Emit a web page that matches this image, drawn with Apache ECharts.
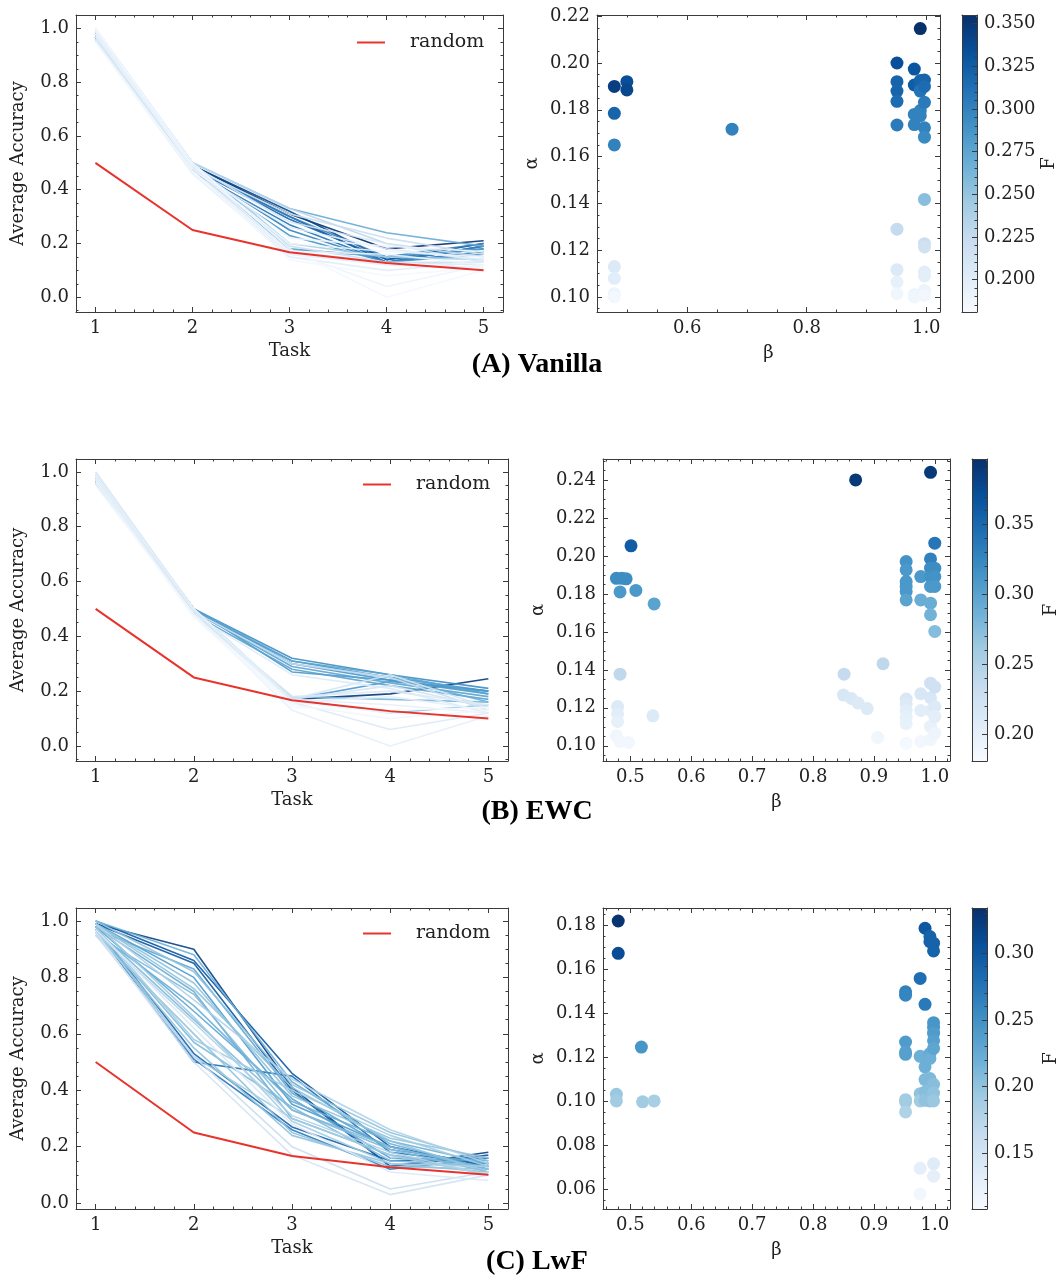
<!DOCTYPE html>
<html>
<head>
<meta charset="utf-8">
<script src="https://cdn.jsdelivr.net/npm/echarts@6/dist/echarts.min.js"></script>
<style>
html, body { margin: 0; padding: 0; background: #fff; }
#main { width: 1061px; height: 1280px; }
</style>
</head>
<body>
<div id="main"></div>
<script>
// ---- data ----
var tasks = [1, 2, 3, 4, 5];
var randomAcc = [0.50, 0.25, 0.167, 0.127, 0.10];

// (A) Vanilla : accuracy curves and their F value
var vanillaCurves = [
  [1.00, 0.50, 0.18, 0.00, 0.10],
  [0.95, 0.47, 0.14, 0.08, 0.11],
  [0.98, 0.48, 0.20, 0.17, 0.15],
  [0.99, 0.49, 0.17, 0.04, 0.12],
  [1.00, 0.49, 0.22, 0.19, 0.17],
  [0.95, 0.46, 0.17, 0.16, 0.12],
  [0.97, 0.47, 0.16, 0.12, 0.11],
  [0.96, 0.46, 0.15, 0.10, 0.13],
  [0.96, 0.47, 0.26, 0.18, 0.14],
  [0.98, 0.48, 0.17, 0.13, 0.12],
  [0.97, 0.49, 0.28, 0.20, 0.13],
  [0.99, 0.49, 0.19, 0.13, 0.13],
  [0.99, 0.48, 0.31, 0.22, 0.16],
  [0.98, 0.50, 0.33, 0.20, 0.15],
  [1.00, 0.50, 0.20, 0.15, 0.14],
  [0.99, 0.50, 0.33, 0.24, 0.19],
  [0.97, 0.48, 0.18, 0.15, 0.18],
  [0.96, 0.47, 0.23, 0.13, 0.16],
  [0.98, 0.48, 0.25, 0.13, 0.19],
  [0.97, 0.48, 0.30, 0.15, 0.20],
  [0.97, 0.47, 0.27, 0.13, 0.17],
  [0.96, 0.48, 0.29, 0.14, 0.18],
  [0.97, 0.48, 0.30, 0.13, 0.19],
  [0.98, 0.49, 0.32, 0.14, 0.20],
  [0.97, 0.49, 0.31, 0.18, 0.21]
];
var vanillaCurveF = [0.185, 0.185, 0.19, 0.19, 0.19, 0.19, 0.20, 0.20, 0.20, 0.21, 0.21, 0.22, 0.22,
  0.23, 0.24, 0.27, 0.28, 0.29, 0.30, 0.30, 0.31, 0.32, 0.33, 0.34, 0.355];

var vanillaBeta = [0.478, 0.478, 0.478, 0.499, 0.499, 0.478, 0.478, 0.478, 0.478, 0.675,
  0.951, 0.951, 0.951, 0.951, 0.951, 0.951, 0.951, 0.951, 0.951,
  0.980, 0.980, 0.980, 0.980, 0.980, 0.980,
  0.990, 0.990, 0.990, 0.990, 0.990, 0.990,
  0.997, 0.997, 0.997, 0.997, 0.997, 0.997, 0.997, 0.997, 0.997, 0.997, 0.997, 0.997];
var vanillaAlpha = [0.190, 0.1785, 0.165, 0.192, 0.1885, 0.113, 0.108, 0.1014, 0.100, 0.1717,
  0.200, 0.192, 0.188, 0.1836, 0.1735, 0.129, 0.1117, 0.1064, 0.1014,
  0.1974, 0.1906, 0.178, 0.1737, 0.101, 0.100,
  0.2147, 0.1925, 0.1896, 0.188, 0.1797, 0.1775,
  0.1927, 0.190, 0.1832, 0.1723, 0.1683, 0.1417, 0.1228, 0.1214, 0.1107, 0.109, 0.1028, 0.1007];
var vanillaF = [0.345, 0.32, 0.30, 0.335, 0.34, 0.205, 0.20, 0.19, 0.185, 0.30,
  0.335, 0.32, 0.32, 0.315, 0.305, 0.225, 0.205, 0.195, 0.188,
  0.33, 0.325, 0.30, 0.30, 0.19, 0.188,
  0.355, 0.32, 0.32, 0.31, 0.30, 0.30,
  0.32, 0.315, 0.305, 0.30, 0.295, 0.255, 0.22, 0.215, 0.20, 0.198, 0.19, 0.186];

// (B) EWC
var ewcCurves = [
  [0.96, 0.47, 0.14, 0.13, 0.14],
  [0.95, 0.48, 0.16, 0.12, 0.10],
  [0.97, 0.47, 0.15, 0.10, 0.13],
  [0.98, 0.48, 0.13, 0.00, 0.11],
  [0.98, 0.50, 0.16, 0.18, 0.13],
  [0.99, 0.50, 0.17, 0.15, 0.12],
  [0.99, 0.49, 0.16, 0.06, 0.12],
  [1.00, 0.49, 0.18, 0.20, 0.15],
  [0.98, 0.48, 0.26, 0.21, 0.12],
  [1.00, 0.50, 0.17, 0.26, 0.14],
  [0.97, 0.48, 0.17, 0.22, 0.14],
  [0.99, 0.49, 0.30, 0.25, 0.13],
  [0.97, 0.49, 0.17, 0.12, 0.15],
  [0.96, 0.48, 0.18, 0.17, 0.16],
  [0.98, 0.49, 0.30, 0.25, 0.16],
  [0.96, 0.48, 0.28, 0.22, 0.17],
  [0.97, 0.49, 0.29, 0.23, 0.18],
  [0.99, 0.50, 0.31, 0.26, 0.19],
  [0.98, 0.50, 0.30, 0.24, 0.19],
  [0.97, 0.50, 0.27, 0.24, 0.20],
  [0.96, 0.49, 0.31, 0.25, 0.20],
  [0.98, 0.50, 0.17, 0.235, 0.20],
  [0.97, 0.50, 0.32, 0.26, 0.21],
  [0.97, 0.49, 0.17, 0.19, 0.245]
];
var ewcCurveF = [0.185, 0.19, 0.19, 0.20, 0.20, 0.20, 0.21, 0.21, 0.21, 0.22, 0.22, 0.23,
  0.27, 0.28, 0.29, 0.30, 0.30, 0.30, 0.31, 0.31, 0.31, 0.31, 0.32, 0.39];

var ewcBeta = [0.477, 0.486, 0.493, 0.483, 0.509, 0.501, 0.539,
  0.483, 0.479, 0.479, 0.479, 0.477, 0.483, 0.497, 0.537,
  0.870, 0.851, 0.850, 0.863, 0.874, 0.889, 0.906, 0.915,
  0.953, 0.953, 0.953, 0.953, 0.953, 0.953, 0.953, 0.953, 0.953, 0.953, 0.953, 0.953,
  0.977, 0.977, 0.977, 0.977, 0.977,
  0.993, 0.993, 0.993, 0.993, 0.993, 0.993, 0.993, 0.993, 0.993, 0.993, 0.993, 0.993,
  1.000, 1.000, 1.000, 1.000, 1.000, 1.000, 1.000, 1.000, 1.000];
var ewcAlpha = [0.1882, 0.1882, 0.1879, 0.181, 0.1818, 0.2053, 0.1747,
  0.1377, 0.1207, 0.1168, 0.1128, 0.1053, 0.1023, 0.1018, 0.1158,
  0.240, 0.1377, 0.1267, 0.1249, 0.1225, 0.1196, 0.1044, 0.1432,
  0.197, 0.1926, 0.1865, 0.1839, 0.1812, 0.1768, 0.1246, 0.1221, 0.1186, 0.115, 0.1116, 0.1014,
  0.1891, 0.1768, 0.1274, 0.1186, 0.1023,
  0.244, 0.1984, 0.1935, 0.1891, 0.1839, 0.1751, 0.169, 0.133, 0.1253, 0.1186, 0.1102, 0.1032,
  0.2067, 0.1935, 0.1891, 0.1839, 0.1602, 0.1309, 0.1207, 0.1154, 0.1067];
var ewcF = [0.32, 0.32, 0.32, 0.31, 0.31, 0.36, 0.30,
  0.24, 0.21, 0.205, 0.20, 0.19, 0.188, 0.188, 0.21,
  0.39, 0.235, 0.215, 0.213, 0.21, 0.21, 0.19, 0.24,
  0.315, 0.31, 0.31, 0.31, 0.31, 0.30, 0.215, 0.21, 0.205, 0.20, 0.198, 0.185,
  0.31, 0.29, 0.215, 0.205, 0.188,
  0.39, 0.33, 0.32, 0.315, 0.31, 0.29, 0.285, 0.225, 0.215, 0.205, 0.198, 0.19,
  0.34, 0.32, 0.315, 0.31, 0.275, 0.225, 0.21, 0.203, 0.192];

// (C) LwF
var lwfCurves = [
  [0.97, 0.62, 0.28, 0.11, 0.08],
  [0.96, 0.50, 0.17, 0.03, 0.10],
  [0.95, 0.52, 0.20, 0.05, 0.11],
  [0.99, 0.72, 0.44, 0.26, 0.14],
  [0.96, 0.64, 0.31, 0.18, 0.10],
  [0.97, 0.52, 0.30, 0.17, 0.10],
  [0.98, 0.58, 0.40, 0.24, 0.13],
  [0.99, 0.66, 0.29, 0.14, 0.13],
  [0.95, 0.60, 0.25, 0.13, 0.12],
  [0.96, 0.55, 0.24, 0.14, 0.11],
  [0.99, 0.76, 0.41, 0.22, 0.11],
  [1.00, 0.82, 0.42, 0.25, 0.15],
  [0.99, 0.78, 0.38, 0.23, 0.16],
  [0.95, 0.74, 0.33, 0.20, 0.12],
  [0.97, 0.65, 0.33, 0.19, 0.11],
  [0.97, 0.57, 0.34, 0.15, 0.13],
  [0.96, 0.70, 0.36, 0.22, 0.14],
  [1.00, 0.88, 0.43, 0.21, 0.12],
  [0.98, 0.75, 0.30, 0.17, 0.13],
  [0.97, 0.83, 0.39, 0.19, 0.14],
  [0.98, 0.68, 0.37, 0.16, 0.15],
  [0.99, 0.80, 0.35, 0.20, 0.12],
  [0.98, 0.51, 0.26, 0.12, 0.16],
  [0.97, 0.50, 0.45, 0.18, 0.14],
  [0.98, 0.53, 0.27, 0.15, 0.16],
  [1.00, 0.86, 0.46, 0.20, 0.13],
  [0.99, 0.85, 0.40, 0.13, 0.17],
  [0.99, 0.90, 0.41, 0.13, 0.18]
];
var lwfCurveF = [0.14, 0.15, 0.16, 0.18, 0.18, 0.19, 0.19, 0.19, 0.20, 0.20, 0.20, 0.20, 0.20, 0.21,
  0.21, 0.21, 0.22, 0.22, 0.22, 0.23, 0.23, 0.24, 0.27, 0.28, 0.29, 0.30, 0.30, 0.32];

var lwfBeta = [0.480, 0.480, 0.477, 0.477, 0.518, 0.520, 0.539,
  0.952, 0.952, 0.952, 0.952, 0.952, 0.952, 0.952, 0.952,
  0.976, 0.976, 0.976, 0.976, 0.976, 0.976,
  0.984, 0.984, 0.984, 0.984, 0.984, 0.984,
  0.992, 0.992, 0.992, 0.992, 0.992, 0.992, 0.992,
  0.998, 0.998, 0.998, 0.998, 0.998, 0.998, 0.998, 0.998, 0.998, 0.998, 0.998, 0.998];
var lwfAlpha = [0.1818, 0.1671, 0.1030, 0.1000, 0.1245, 0.0996, 0.1000,
  0.1496, 0.1481, 0.1268, 0.1223, 0.1212, 0.1006, 0.0995, 0.095,
  0.1557, 0.1203, 0.1033, 0.100, 0.0694, 0.0577,
  0.1785, 0.1439, 0.1155, 0.1097, 0.1041, 0.1003,
  0.1747, 0.1724, 0.1215, 0.1193, 0.1102, 0.1049, 0.100,
  0.1717, 0.1682, 0.1356, 0.1335, 0.1308, 0.1274, 0.1239, 0.1076, 0.1036, 0.100, 0.0715, 0.0658];
var lwfF = [0.33, 0.31, 0.195, 0.19, 0.245, 0.19, 0.185,
  0.265, 0.26, 0.24, 0.235, 0.235, 0.19, 0.19, 0.18,
  0.28, 0.22, 0.20, 0.19, 0.13, 0.115,
  0.30, 0.27, 0.22, 0.21, 0.205, 0.20,
  0.29, 0.29, 0.225, 0.22, 0.21, 0.205, 0.20,
  0.29, 0.29, 0.245, 0.245, 0.24, 0.235, 0.23, 0.205, 0.20, 0.195, 0.135, 0.13];

// ---- styling helpers ----
var serif = 'DejaVu Serif';
var fontPx = 18;
var axisCol = '#3a3a3a';
var textCol = '#222';
var blues = ['#f7fbff', '#deebf7', '#c6dbef', '#9ecae1', '#6baed6', '#4292c6', '#2171b5', '#08519c', '#08306b'];

function hexToRgb(h) {
  return [parseInt(h.substr(1, 2), 16), parseInt(h.substr(3, 2), 16), parseInt(h.substr(5, 2), 16)];
}
function bluesAt(t) {
  t = Math.max(0, Math.min(1, t));
  var p = t * 8, i = Math.min(7, Math.floor(p)), f = p - i;
  var a = hexToRgb(blues[i]), b = hexToRgb(blues[i + 1]);
  return 'rgb(' + [0, 1, 2].map(function (k) { return Math.round(a[k] + (b[k] - a[k]) * f); }).join(',') + ')';
}
function steps(a, b, s) {
  var out = [];
  for (var v = a; v <= b + s / 1000; v += s) out.push(Math.round(v * 1e6) / 1e6);
  return out;
}

var option = {
  animation: false,
  backgroundColor: '#fff',
  grid: [], xAxis: [], yAxis: [], series: [], visualMap: [], legend: [], graphic: []
};

function addGrid(r) {
  option.grid.push({ left: r[0], top: r[1], width: r[2], height: r[3], show: false, outerBoundsMode: 'none', containLabel: false });
  return option.grid.length - 1;
}

// box sides: major ticks (+labels on the first side) and minor ticks
function addAxes(list, gi, range, majors, minors, sides, dec, name, nameGap, rot) {
  var first = list.length;
  sides.forEach(function (side, k) {
    var lab = k === 0 && dec !== null;
    var ax = {
      type: 'value', gridIndex: gi, min: range[0], max: range[1], position: side, z: 10,
      splitLine: { show: false },
      axisLine: { show: true, onZero: false, lineStyle: { color: axisCol, width: 1 } },
      axisTick: { show: true, inside: true, length: 5, customValues: majors, lineStyle: { color: axisCol, width: 1 } },
      axisLabel: lab ? {
        show: true, customValues: majors, margin: 7, color: textCol, fontFamily: serif, fontSize: fontPx,
        formatter: function (v) { return Number(v).toFixed(dec); }
      } : { show: false }
    };
    if (k === 0 && name) {
      ax.name = name;
      ax.nameLocation = 'middle';
      ax.nameGap = nameGap;
      ax.nameTextStyle = { color: textCol, fontFamily: serif, fontSize: fontPx };
      if (rot) ax.nameRotate = rot;
    }
    list.push(ax);
  });
  sides.forEach(function (side) {
    list.push({
      type: 'value', gridIndex: gi, min: range[0], max: range[1], position: side, z: 10,
      splitLine: { show: false },
      axisLine: { show: false, onZero: false },
      axisTick: { show: true, inside: true, length: 2.5, customValues: minors, lineStyle: { color: axisCol, width: 1 } },
      axisLabel: { show: false }
    });
  });
  return first;
}

function accuracyPanel(rect, yRange, curves, curveF, fRange, legendPos) {
  var gi = addGrid(rect);
  var xi = addAxes(option.xAxis, gi, [0.8, 5.2], tasks, steps(0.8, 5.2, 0.2), ['bottom', 'top'], 0, 'Task', 30);
  var yi = addAxes(option.yAxis, gi, yRange, steps(0, 1, 0.2), steps(-0.05, 1.05, 0.05), ['left', 'right'], 1, 'Average Accuracy', 49, 90);
  // darker curves first, pale ones drawn over them
  var order = curves.map(function (c, i) { return i; }).sort(function (a, b) { return curveF[b] - curveF[a]; });
  order.forEach(function (i) {
    option.series.push({
      type: 'line', xAxisIndex: xi, yAxisIndex: yi, symbol: 'none', silent: true,
      data: tasks.map(function (t, k) { return [t, curves[i][k]]; }),
      lineStyle: { color: bluesAt((curveF[i] - fRange[0]) / (fRange[1] - fRange[0])), width: 1.6, opacity: 0.9 }
    });
  });
  option.series.push({
    type: 'line', name: 'random', xAxisIndex: xi, yAxisIndex: yi, symbol: 'none', z: 5,
    data: tasks.map(function (t, k) { return [t, randomAcc[k]]; }),
    lineStyle: { color: '#e8332c', width: 2 }, itemStyle: { color: '#e8332c' }
  });
  option.legend.push({
    left: legendPos[0], top: legendPos[1], padding: 0, icon: 'rect', itemWidth: 28, itemHeight: 2,
    selectedMode: false, data: [{ name: 'random' }],
    textStyle: { color: textCol, fontFamily: serif, fontSize: 19, padding: [0, 0, 0, 20] }
  });
}

function scatterPanel(rect, xRange, xMaj, xMin, xDec, yRange, yMaj, yMin, beta, alpha, F, cbRect, fRange, cbMaj, cbMin, cbDec, fGap) {
  var gi = addGrid(rect);
  var xi = addAxes(option.xAxis, gi, xRange, xMaj, xMin, ['bottom', 'top'], xDec, '\u03b2', 32);
  var yi = addAxes(option.yAxis, gi, yRange, yMaj, yMin, ['left', 'right'], 2, '\u03b1', 56, 90);
  option.series.push({
    type: 'scatter', xAxisIndex: xi, yAxisIndex: yi, symbolSize: 13,
    data: beta.map(function (b, i) { return [b, alpha[i], F[i]]; }),
    itemStyle: { opacity: 1 }
  });
  var si = option.series.length - 1;
  option.visualMap.push({
    type: 'continuous', seriesIndex: si, dimension: 2, min: fRange[0], max: fRange[1],
    inRange: { color: blues }, calculable: false, hoverLink: false, text: null,
    left: cbRect[0], top: cbRect[1], itemWidth: cbRect[2], itemHeight: cbRect[3], padding: 0
  });
  // colorbar frame and ticks
  var cg = addGrid(cbRect);
  ['bottom', 'top'].forEach(function (p) {
    option.xAxis.push({ type: 'value', gridIndex: cg, min: 0, max: 1, position: p, z: 10,
      axisLine: { show: true, onZero: false, lineStyle: { color: axisCol } }, axisTick: { show: false }, axisLabel: { show: false }, splitLine: { show: false } });
  });
  option.yAxis.push({ type: 'value', gridIndex: cg, min: fRange[0], max: fRange[1], position: 'left', z: 10,
    axisLine: { show: true, onZero: false, lineStyle: { color: axisCol } }, axisTick: { show: false }, axisLabel: { show: false }, splitLine: { show: false } });
  addAxes(option.yAxis, cg, fRange, cbMaj, cbMin, ['right'], cbDec, 'F', fGap, 90);
}

accuracyPanel([76, 15, 427, 297], [-0.055, 1.05], vanillaCurves, vanillaCurveF, [0.181, 0.355], [357, 33]);
scatterPanel([597, 15, 343, 297], [0.449, 1.023], [0.6, 0.8, 1.0], steps(0.45, 1.0, 0.05), 1,
  [0.0936, 0.2205], steps(0.10, 0.22, 0.02), steps(0.095, 0.22, 0.005),
  vanillaBeta, vanillaAlpha, vanillaF, [962, 15, 15, 297], [0.181, 0.355], steps(0.2, 0.35, 0.025), steps(0.185, 0.355, 0.005), 3, 63);

accuracyPanel([76, 459, 432, 302], [-0.055, 1.047], ewcCurves, ewcCurveF, [0.181, 0.397], [363, 475]);
scatterPanel([603, 459, 347, 302], [0.455, 1.025], steps(0.5, 1.0, 0.1), steps(0.46, 1.02, 0.02), 1,
  [0.092, 0.251], steps(0.10, 0.24, 0.02), steps(0.095, 0.25, 0.005),
  ewcBeta, ewcAlpha, ewcF, [972, 459, 15, 302], [0.181, 0.397], steps(0.2, 0.35, 0.05), steps(0.19, 0.39, 0.01), 2, 55);

accuracyPanel([76, 908, 432, 301], [-0.021, 1.046], lwfCurves, lwfCurveF, [0.108, 0.334], [363, 924]);
scatterPanel([603, 908, 347, 301], [0.455, 1.025], steps(0.5, 1.0, 0.1), steps(0.46, 1.02, 0.02), 1,
  [0.0509, 0.1877], steps(0.06, 0.18, 0.02), steps(0.055, 0.185, 0.005),
  lwfBeta, lwfAlpha, lwfF, [972, 908, 15, 301], [0.108, 0.334], steps(0.15, 0.30, 0.05), steps(0.11, 0.33, 0.01), 2, 55);

var captions = [['(A) Vanilla', 365], ['(B) EWC', 812], ['(C) LwF', 1262]];
captions.forEach(function (c) {
  option.graphic.push({
    type: 'text', x: 537, y: c[1], z: 20,
    style: { text: c[0], fill: '#000', font: 'bold 28px "Liberation Serif"', align: 'center', verticalAlign: 'middle',
      textAlign: 'center', textVerticalAlign: 'middle' }
  });
});

var chart = echarts.init(document.getElementById('main'), null, { renderer: 'canvas' });
chart.setOption(option);
</script>
</body>
</html>
